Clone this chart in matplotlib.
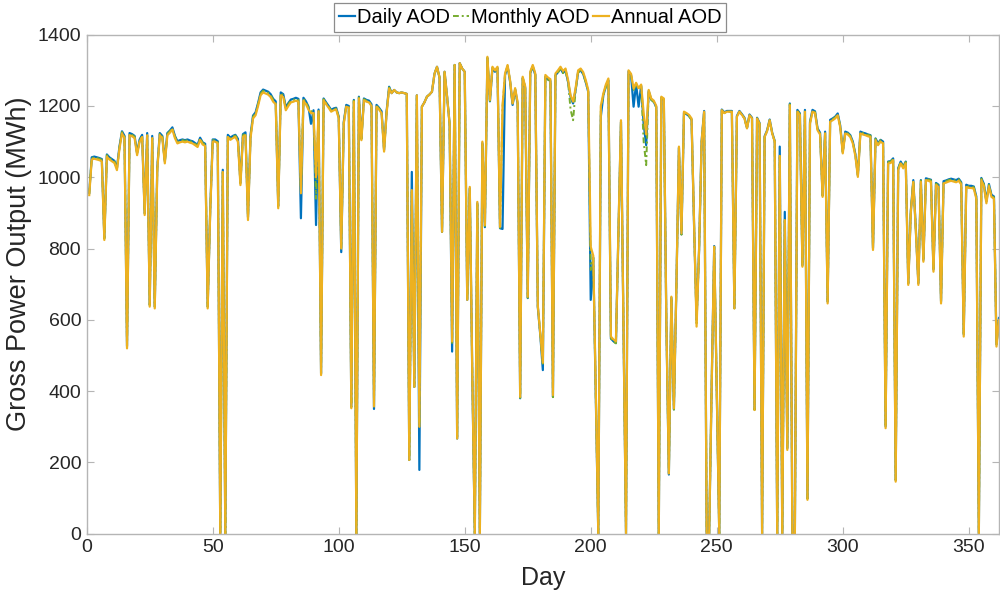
import numpy as np
import matplotlib
matplotlib.use("Agg")
import matplotlib.pyplot as plt

plt.rcParams['font.family'] = ['Liberation Sans', 'DejaVu Sans']

# annual-AOD gross output per day (MWh)
annual = [
    950, 1050, 1052, 1050, 1048, 1045, 824, 1058, 1050, 1045,
    1040, 1020, 1080, 1123, 1110, 520, 1118, 1115, 1110, 1062,
    1100, 1113, 894, 1118, 637, 1110, 632, 1020, 1118, 1110,
    1039, 1118, 1125, 1134, 1110, 1095, 1098, 1100, 1098, 1100,
    1097, 1095, 1090, 1085, 1105, 1092, 1088, 632, 900, 1100,
    1100, 1095, 0, 1015, 0, 1113, 1105, 1110, 1113, 1100,
    978, 1113, 1118, 880, 1110, 1165, 1174, 1200, 1230, 1238,
    1235, 1232, 1225, 1212, 1205, 913, 1230, 1225, 1188, 1200,
    1210, 1212, 1215, 1212, 955, 1215, 1205, 1190, 1180, 1180,
    1000, 1185, 445, 1216, 1205, 1195, 1184, 1188, 1190, 1165,
    800, 1150, 1198, 1195, 352, 1212, 0, 1221, 1104, 1216,
    1212, 1210, 1200, 357, 1198, 1190, 1180, 1072, 1180, 1249,
    1236, 1245, 1238, 1236, 1238, 1236, 1234, 207, 964, 412,
    1230, 300, 1198, 1210, 1226, 1232, 1240, 1290, 1310, 1280,
    847, 1296, 1226, 1150, 540, 1315, 267, 1320, 1305, 1296,
    656, 973, 450, 0, 931, 0, 1100, 866, 1338, 1217,
    1310, 1300, 1310, 861, 1200, 1291, 1315, 1272, 1207, 1250,
    1210, 384, 1282, 1255, 665, 1296, 1315, 1291, 640, 560,
    480, 1287, 1280, 1275, 389, 1291, 1300, 1310, 1298, 1305,
    1273, 1230, 1212, 1250, 1300, 1305, 1295, 1273, 1245, 805,
    780, 400, 0, 1200, 1235, 1260, 1277, 553, 545, 540,
    850, 1160, 580, 0, 1300, 1290, 1249, 1265, 1250, 1260,
    1180, 1120, 1245, 1221, 1215, 1200, 0, 1226, 1221, 600,
    169, 665, 352, 700, 1086, 843, 1184, 1180, 1175, 1165,
    870, 581, 800, 1100, 1184, 0, 0, 420, 805, 400,
    0, 1188, 1180, 1184, 1184, 1184, 632, 1170, 1184, 1175,
    1165, 1137, 1174, 1165, 347, 1165, 1150, 0, 1113, 1130,
    1160, 1123, 1100, 0, 1060, 0, 880, 235, 1202, 0,
    0, 1184, 1174, 749, 1184, 95, 1150, 1184, 1180, 1132,
    1120, 945, 1123, 646, 1156, 1160, 1165, 1174, 1140, 1067,
    1123, 1120, 1113, 1095, 1060, 1001, 1123, 1120, 1118, 1115,
    1113, 796, 1104, 1090, 1100, 1095, 296, 1039, 1040, 1048,
    146, 1020, 1039, 1025, 1039, 698, 900, 987, 850, 698,
    987, 763, 992, 990, 987, 735, 978, 973, 646, 983,
    985, 988, 990, 988, 986, 990, 980, 553, 973, 970,
    970, 968, 940, 0, 992, 975, 927, 975, 945, 940,
    525, 600, 580, 540, 560,
]

# how far the daily / monthly curves sit from the annual one, per month (MWh)
month_len = [31, 28, 31, 30, 31, 30, 31, 31, 30, 31, 30, 31]
daily_shift = [6, 6, 8, 5, 0, -4, -5, -3, 2, 5, 5, 6]
monthly_shift = [4, 4, 5, 3, 0, -3, -6, -4, 0, 3, 4, 4]

# days where the daily / monthly curves visibly split from the annual one
daily_pts = {85: 885, 89: 1150, 91: 866, 101: 790, 114: 350, 129: 1015,
             132: 179, 145: 511, 158: 860, 165: 855, 181: 459, 200: 656,
             204: 1170, 217: 1198, 219: 1198, 221: 1150, 222: 1090,
             242: 600, 275: 1086, 277: 903}
monthly_pts = {91: 940, 145: 530, 192: 1190, 193: 1160, 200: 740,
               221: 1100, 222: 1034, 242: 590}

days = np.arange(1, len(annual) + 1)
annual = np.array(annual, dtype=float)

d_off = np.repeat(daily_shift, month_len)[:len(days)]
m_off = np.repeat(monthly_shift, month_len)[:len(days)]
daily = np.where(annual > 0, annual + d_off, 0.0)
monthly = np.where(annual > 0, annual + m_off, 0.0)
for d, v in daily_pts.items():
    daily[d - 1] = v
for d, v in monthly_pts.items():
    monthly[d - 1] = v

fig = plt.figure(figsize=(10, 5.98), dpi=100)
ax = fig.add_axes([0.0867, 0.1075, 0.9123, 0.8345])

ax.plot(days, daily, color='#0072BD', lw=1.6, label='Daily AOD')
ax.plot(days, monthly, color='#77AC30', lw=1.4, ls=(0, (3, 1.5, 1, 1.5)),
        label='Monthly AOD')
ax.plot(days, annual, color='#EDB120', lw=1.6, label='Annual AOD')

ax.set_xlim(0, 362)
ax.set_ylim(0, 1400)
ax.set_xticks(np.arange(0, 351, 50))
ax.set_yticks(np.arange(0, 1401, 200))

for s in ax.spines.values():
    s.set_color('#B5B5B5')
    s.set_linewidth(1.0)
ax.tick_params(direction='in', top=True, right=True, length=5, width=0.8,
               color='#B5B5B5', labelcolor='#262626', labelsize=14, pad=4)

ax.set_xlabel('Day', fontsize=18, color='#262626', labelpad=7)
ax.set_ylabel('Gross Power Output (MWh)', fontsize=19.5, color='#262626')
ax.yaxis.set_label_coords(-0.06, 0.54)

leg = ax.legend(loc='lower center', bbox_to_anchor=(0.486, 0.997), ncol=3,
                fontsize=14.5, frameon=True, fancybox=False, framealpha=1,
                edgecolor='#8C8C8C', handlelength=0.8, handletextpad=0.1,
                columnspacing=0.15, borderpad=0.25, borderaxespad=0.2)
leg.get_frame().set_linewidth(0.9)

fig.savefig('out.png', dpi=100)
